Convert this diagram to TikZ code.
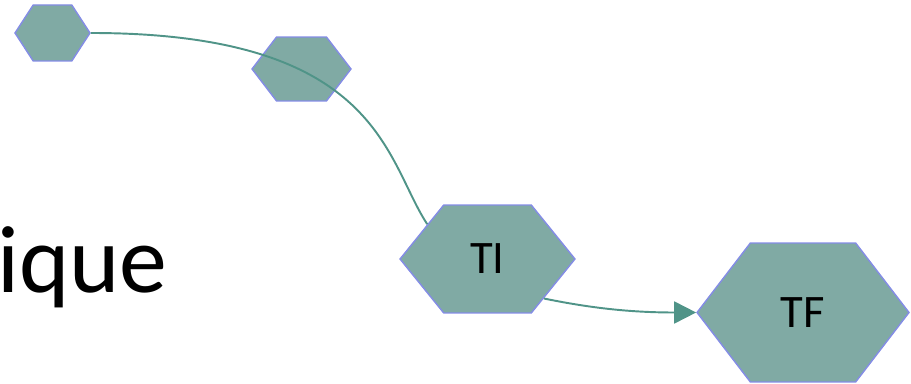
\documentclass[tikz,border=0pt]{standalone}
\usepackage{fontspec}
\setmainfont{Carlito}
\usetikzlibrary{shapes.symbols,arrows.meta}
\definecolor{hexfill}{RGB}{128,170,164}
\definecolor{hexline}{RGB}{132,140,230}
\definecolor{linkcol}{RGB}{80,148,136}
\begin{document}
\begin{tikzpicture}[x=0.02cm,y=-0.02cm]
                \tikzstyle{hexa}=[signal, signal to=east and west, fill=hexfill, draw=hexline, line width=0.8pt, inner sep=0pt, text=black, font=\fontsize{26.5}{30}\selectfont]
                \tikzstyle{connector}=[linkcol, line width=1.1pt]
                \useasboundingbox (0,0) rectangle (911,384);

                \node[anchor=base west, inner sep=0pt, font=\fontsize{54.5}{60}\selectfont] (word) at (-3,293) {ique};

                \node[hexa, minimum width=1.5cm, minimum height=1.12cm, signal pointer angle=114] (s) at (52.5,33) {};
                \node[hexa, minimum width=1.98cm, minimum height=1.28cm, signal pointer angle=105] (m) at (301.5,69) {};
                \node[hexa, minimum width=3.5cm, minimum height=2.16cm, signal pointer angle=102] (ti) at (487.5,259) {TI};
                \node[hexa, minimum width=4.24cm, minimum height=2.78cm, signal pointer angle=105] (tf) at (803,312.5) {TF};

                \draw[connector] (s.east) .. controls (380,33) and (385,160) .. (ti.150);
                \draw[connector, -{Triangle[length=0.44cm, width=0.44cm]}] (ti.-35) .. controls (595,309) and (635,312.5) .. (tf.west);
            \end{tikzpicture}
\end{document}
